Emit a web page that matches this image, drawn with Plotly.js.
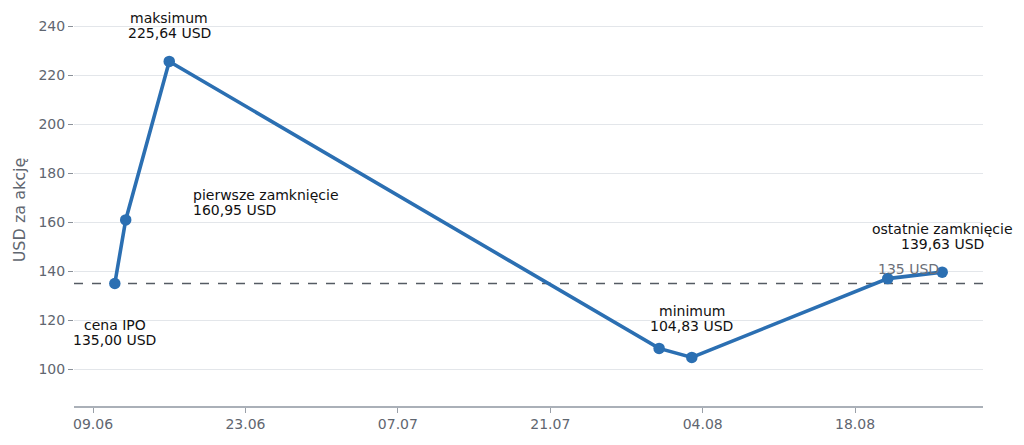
<!DOCTYPE html>
<html><head><meta charset="utf-8">
<script src="https://cdn.plot.ly/plotly-3.0.1.min.js"></script>
<style>html,body{margin:0;padding:0;background:#fff}#chart{width:1024px;height:445px}</style>
</head><body><div id="chart"></div>
<script>
const dates = ['2024-06-11','2024-06-12','2024-06-16','2024-07-31','2024-08-03','2024-08-21','2024-08-26'];
const prices = [135.00, 160.95, 225.64, 108.5, 104.83, 137.0, 139.63];
const ipoPrice = 135;
const labelTitles = ['cena IPO','pierwsze zamknięcie','maksimum','minimum','ostatnie zamknięcie'];
const labelValues = ['135,00 USD','160,95 USD','225,64 USD','104,83 USD','139,63 USD'];
const labelIdx = [0,1,2,4,6];

const font = "DejaVu Sans, sans-serif";
const trace = {
  x: dates, y: prices, type:'scatter', mode:'lines+markers',
  line:{color:'#2b6fb2', width:3.6},
  marker:{color:'#2b6fb2', size:11.5},
  hoverinfo:'skip'
};
// per label: [xanchor, xshift, yshift line1, yshift line2]
const place = [
  ['center', 0, -41, -56],
  ['left', 65, 25, 10],
  ['center', 0, 43, 28],
  ['center', 0, 46, 31],
  ['center', 0, 43, 28]
];
const ann = [];
labelIdx.forEach((pi, k) => {
  const p = place[k];
  [labelTitles[k], labelValues[k]].forEach((t, j) => {
    ann.push({x:dates[pi], y:prices[pi], text:t, showarrow:false, xanchor:p[0], yanchor:'middle',
      xshift:p[1], yshift:p[2+j], font:{family:font,size:14,color:'#111'}});
  });
});
ann.push({xref:'paper', x:0.954, y:ipoPrice, text:ipoPrice+' USD', showarrow:false, xanchor:'right', yanchor:'middle', yshift:15, font:{family:font,size:14,color:'#6b7079'}});

const layout = {
  width:1024, height:445,
  margin:{l:74, r:41, t:14, b:39},
  paper_bgcolor:'#fff', plot_bgcolor:'#fff',
  showlegend:false,
  font:{family:font, size:14, color:'#5f6670'},
  xaxis:{type:'date', range:['2024-06-07 06:00','2024-08-29 18:00'], tick0:'2024-06-09', dtick:14*86400000,
    tickformat:'%d.%m', ticks:'outside', ticklen:5, tickcolor:'#9aa0a8', showgrid:false, showline:true, linecolor:'#aab0b8', linewidth:1.5,
    zeroline:false, tickfont:{family:font,size:14,color:'#5f6670'}},
  yaxis:{range:[85,245], dtick:20, tick0:0, ticks:'outside', ticklen:5, tickcolor:'#8a9098', showgrid:true, gridcolor:'#e3e6ea', gridwidth:1,
    showline:false, zeroline:false, tickfont:{family:font,size:14,color:'#5f6670'},
    title:{text:'USD za akcję', font:{family:font,size:16,color:'#5f6670'}, standoff:8}},
  shapes:[{type:'line', xref:'paper', x0:0, x1:1, y0:ipoPrice, y1:ipoPrice, line:{color:'#555b63', width:1.5, dash:'dash'}, layer:'below'}],
  annotations: ann
};
Plotly.newPlot('chart',[trace],layout,{staticPlot:true});
</script></body></html>
